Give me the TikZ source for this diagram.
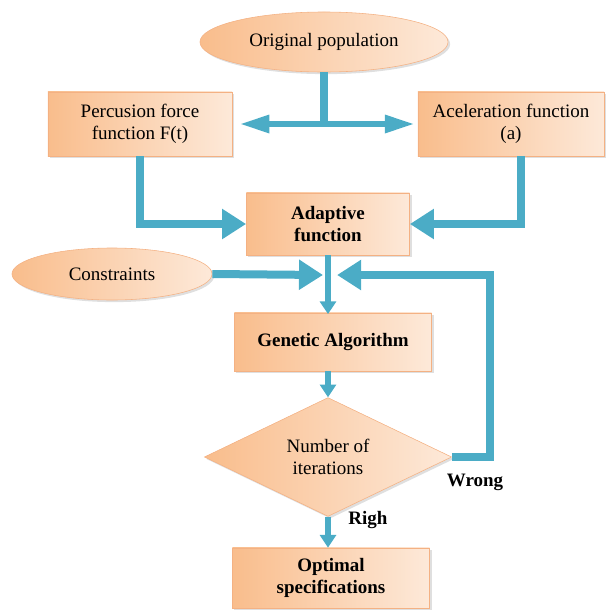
\documentclass[tikz,border=0pt]{standalone}
\usepackage{fontspec}
\setmainfont{Liberation Serif}
\usetikzlibrary{arrows.meta,shapes.geometric,shadows}
\definecolor{flowblue}{HTML}{4BACC6}
\definecolor{boxdark}{HTML}{F9BD8C}
\definecolor{boxlight}{HTML}{FDE9D9}
\definecolor{boxline}{HTML}{F4B183}
\tikzset{
  box/.style={rectangle, draw=boxline, left color=boxdark, right color=boxlight,
    drop shadow={opacity=0.25, shadow xshift=1.5pt, shadow yshift=-1.5pt},
    align=center, inner sep=2pt},
  oval/.style={ellipse, draw=boxline, left color=boxdark, right color=boxlight,
    drop shadow={opacity=0.25, shadow xshift=1.5pt, shadow yshift=-1.5pt},
    align=center, inner sep=0pt},
  decide/.style={diamond, draw=boxline, left color=boxdark, right color=boxlight,
    drop shadow={opacity=0.25, shadow xshift=1.5pt, shadow yshift=-1.5pt},
    align=center, inner sep=0pt},
  boldtext/.style={font=\fontsize{13.5}{16}\selectfont\bfseries},
  flow/.style={draw=flowblue, line width=0.2cm, line join=miter,
    -{Triangle[width=0.72cm, length=0.6cm]}},
  flowsmall/.style={draw=flowblue, line width=0.17cm,
    -{Triangle[width=0.4cm, length=0.32cm]}},
  flowboth/.style={draw=flowblue, line width=0.16cm,
    {Triangle[width=0.42cm, length=0.75cm]}-{Triangle[width=0.42cm, length=0.75cm]}},
}
\begin{document}
\begin{tikzpicture}[x=0.025cm, y=-0.025cm, font=\fontsize{13.5}{16}\selectfont]
    \useasboundingbox (0,0) rectangle (608,613);

    % 节点
    \node[oval, minimum width=6.2cm, minimum height=1.5cm] (orig) at (324,42) {Original population};
    \node[box, minimum width=4.6cm, minimum height=1.6cm] (perc) at (140,124) {Percusion force\\function F(t)};
    \node[box, minimum width=4.65cm, minimum height=1.6cm] (acel) at (511,124) {Aceleration function\\(a)};
    \node[box, boldtext, minimum width=4.08cm, minimum height=1.55cm] (adapt) at (328,224) {Adaptive\\function};
    \node[oval, minimum width=5cm, minimum height=1.3cm] (cons) at (112,274) {Constraints};
    \node[box, boldtext, minimum width=4.93cm, minimum height=1.45cm] (gen) at (333,342) {Genetic Algorithm};
    \node[decide, minimum width=6.18cm, minimum height=2.33cm] (iter) at (328,457) {Number of\\iterations};
    \node[box, boldtext, minimum width=4.93cm, minimum height=1.5cm] (opt) at (331,578) {Optimal\\specifications};

    % 汇合点
    \coordinate (split) at (324,124);
    \coordinate (merge) at (323,275);
    \coordinate (loop) at (490,457);

    % 上部连线
    \draw[draw=flowblue, line width=0.2cm] (orig.south) -- (split);
    \draw[flowboth] ([xshift=5]perc.east) -- ([xshift=-2]acel.west);
    \draw[flow] (perc.south) |- (adapt.west);
    \draw[flow] ([xshift=7]acel.south) |- (adapt.east);

    % 中部连线
    \draw[flowsmall] (adapt.south) -- ([yshift=-1]gen.north -| adapt.south);
    \draw[flow] (cons.east) -- (merge);
    \draw[flow] (iter.east) -- (loop) |- ([xshift=10]merge);
    \node[boldtext] (wrong) at (475,482) {Wrong};

    % 下部连线
    \draw[flowsmall] (gen.south -| adapt.south) -- (iter.north -| adapt.south);
    \draw[flowsmall] (iter.south) -- (opt.north -| iter.south);
    \node[boldtext] (righ) at (368,520) {Righ};
\end{tikzpicture}
\end{document}
